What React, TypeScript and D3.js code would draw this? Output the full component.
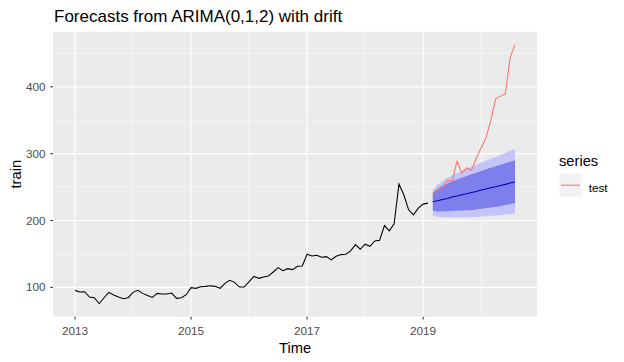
import * as d3 from 'd3'

// monthly series, Jan 2013 .. Feb 2019
const START = 2013
const train = [
  95.5, 93, 93.5, 85.5, 84.5, 75.5, 84.5, 92.5, 88.5, 85.5, 83, 84.5,
  92.5, 95.5, 91, 88, 85, 91, 90, 90, 91.5, 83.5, 84.5, 89,
  99.5, 98.5, 101, 101.5, 102.5, 101.5, 98.5, 106, 110.5, 107.5, 100.5, 100.5,
  108.5, 116.5, 113.5, 115.5, 117, 123, 129.5, 125, 128, 126.5, 131.5, 132,
  149.5, 147, 148, 145, 146, 141, 146.5, 149, 149.5, 154.5, 164, 157,
  164.5, 161.5, 169.5, 170.5, 192.5, 184.5, 195, 254.5, 238.5, 216, 208.5, 218.5,
  224.5, 226,
]

// forecast horizon, Mar 2019 .. Aug 2020
const fcMean = [228, 229.5, 231.5, 233, 235, 236.5, 238.5, 240, 242, 243.5, 245.5, 247, 249, 250.5, 252.5, 254, 256, 257.5]
const hi80 = [241, 248, 252, 255.5, 258.5, 261.5, 264, 266.5, 269, 271.5, 274, 276.5, 279, 281, 283.5, 285.5, 288, 290]
const lo80 = [214.5, 213.5, 213.5, 214, 214.5, 214.5, 215, 215.5, 215.5, 216.5, 217.5, 218.5, 219.5, 220.5, 221.5, 223, 224.5, 226]
const hi95 = [246, 254, 259, 263.5, 267.5, 271, 274.5, 277.5, 280.5, 283.5, 286.5, 289.5, 292.5, 295, 298, 301, 304, 307]
const lo95 = [207, 205.5, 205, 204.5, 204.5, 204.5, 204.5, 205, 205, 205.5, 206, 206.5, 207, 207.5, 208, 209, 209.5, 210]
const test = [241, 246, 248.5, 260, 258.5, 288.5, 271, 278.5, 275, 293.5, 308.5, 323.5, 350, 382, 386, 389.5, 444, 463]

const xTicks = [2013, 2015, 2017, 2019]
const xMinor = [2014, 2016, 2018, 2020]
const yTicks = [100, 200, 300, 400]
const yMinor = [150, 250, 350, 450]

const W = 624
const H = 362
const P = { left: 53, right: 537, top: 31.7, bottom: 316.7 }
const FONT = '"Liberation Sans", Arial, sans-serif'

type Pt = { t: number; v: number }
type Band = { t: number; lo: number; hi: number }

export default function App() {
  const trainPts: Pt[] = train.map((v, i) => ({ t: START + i / 12, v }))
  const fcStart = START + train.length / 12
  const fcPts: Pt[] = fcMean.map((v, i) => ({ t: fcStart + i / 12, v }))
  const testPts: Pt[] = test.map((v, i) => ({ t: fcStart + i / 12, v }))
  const band80: Band[] = hi80.map((hi, i) => ({ t: fcStart + i / 12, lo: lo80[i], hi }))
  const band95: Band[] = hi95.map((hi, i) => ({ t: fcStart + i / 12, lo: lo95[i], hi }))

  // ggplot-style 5% expansion
  const tExt = [START, fcStart + (test.length - 1) / 12]
  const tPad = (tExt[1] - tExt[0]) * 0.05
  const allV = [...train, ...test, ...hi95, ...lo95]
  const vExt = d3.extent(allV) as [number, number]
  const vPad = (vExt[1] - vExt[0]) * 0.05

  const x = d3.scaleLinear().domain([tExt[0] - tPad, tExt[1] + tPad]).range([P.left, P.right])
  const y = d3.scaleLinear().domain([vExt[0] - vPad, vExt[1] + vPad]).range([P.bottom, P.top])

  const line = d3
    .line<Pt>()
    .x((d) => x(d.t))
    .y((d) => y(d.v))
  const area = d3
    .area<Band>()
    .x((d) => x(d.t))
    .y0((d) => y(d.lo))
    .y1((d) => y(d.hi))

  const midY = (P.top + P.bottom) / 2
  const midX = (P.left + P.right) / 2

  return (
    <svg width={W} height={H} style={{ position: 'absolute', left: 0, top: 0, background: '#fff' }} fontFamily={FONT}>
      <text x={54} y={21.5} fontSize={17} fill="#000">
        Forecasts from ARIMA(0,1,2) with drift
      </text>

      <rect x={P.left} y={P.top} width={P.right - P.left} height={P.bottom - P.top} fill="#EBEBEB" />
      {yMinor.map((v) => (
        <line key={'ym' + v} x1={P.left} x2={P.right} y1={y(v)} y2={y(v)} stroke="#fff" strokeWidth={0.53} />
      ))}
      {xMinor.map((t) => (
        <line key={'xm' + t} x1={x(t)} x2={x(t)} y1={P.top} y2={P.bottom} stroke="#fff" strokeWidth={0.53} />
      ))}
      {yTicks.map((v) => (
        <line key={'yg' + v} x1={P.left} x2={P.right} y1={y(v)} y2={y(v)} stroke="#fff" strokeWidth={1.07} />
      ))}
      {xTicks.map((t) => (
        <line key={'xg' + t} x1={x(t)} x2={x(t)} y1={P.top} y2={P.bottom} stroke="#fff" strokeWidth={1.07} />
      ))}

      <path d={area(band95) ?? ''} fill="#C4C4F6" />
      <path d={area(band80) ?? ''} fill="#7E7EEC" />
      <path d={line(trainPts) ?? ''} fill="none" stroke="#000" strokeWidth={1.07} />
      <path d={line(fcPts) ?? ''} fill="none" stroke="#0000AA" strokeWidth={1.07} />
      <path d={line(testPts) ?? ''} fill="none" stroke="#F8766D" strokeWidth={1.07} />

      {yTicks.map((v) => (
        <g key={'yt' + v}>
          <line x1={P.left - 2.7} x2={P.left} y1={y(v)} y2={y(v)} stroke="#333" strokeWidth={1.07} />
          <text x={P.left - 7.5} y={y(v)} dy="0.35em" textAnchor="end" fontSize={11.7} fill="#4D4D4D">
            {v}
          </text>
        </g>
      ))}
      {xTicks.map((t) => (
        <g key={'xt' + t}>
          <line x1={x(t)} x2={x(t)} y1={P.bottom} y2={P.bottom + 2.7} stroke="#333" strokeWidth={1.07} />
          <text x={x(t)} y={335} textAnchor="middle" fontSize={11.7} fill="#4D4D4D">
            {t}
          </text>
        </g>
      ))}

      <text x={midX} y={352.5} textAnchor="middle" fontSize={14.7} fill="#000">
        Time
      </text>
      <text transform={`translate(21,${midY}) rotate(-90)`} textAnchor="middle" fontSize={14.7} fill="#000">
        train
      </text>

      <text x={559} y={166} fontSize={14.7} fill="#000">
        series
      </text>
      <rect x={559.3} y={173.7} width={22.4} height={23} fill="#F2F2F2" />
      <line x1={561} x2={580} y1={185.2} y2={185.2} stroke="#F8766D" strokeWidth={1.07} />
      <text x={588.7} y={192} fontSize={11.7} fill="#000">
        test
      </text>
    </svg>
  )
}
